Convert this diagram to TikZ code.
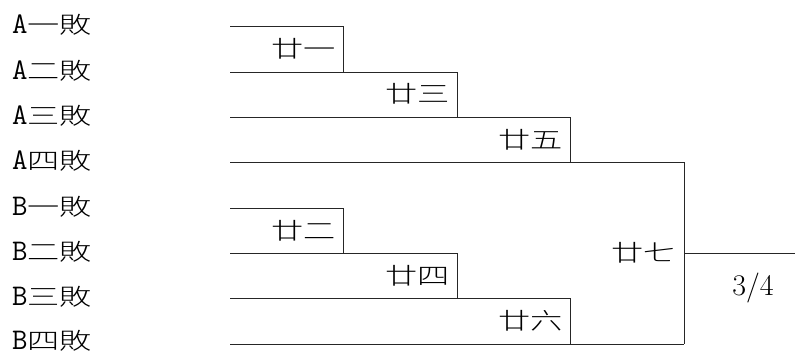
\documentclass[tikz,border=0pt]{standalone}
\usepackage{fontspec}
\newfontfamily\cjk[FakeStretch=1.4]{Noto Sans CJK TC Light}
\begin{document}
\begin{tikzpicture}[x=1pt,y=-1pt,
  br/.style={draw=black!85,line width=0.8pt},
  cj/.style={inner sep=0pt,anchor=east,font=\fontsize{23}{23}\selectfont\cjk},
  lab/.style={inner sep=0pt,anchor=west},
  sc/.style={inner sep=0pt,font=\fontsize{30}{30}\selectfont\rmfamily}]
\useasboundingbox (0,0) rectangle (795,356);
\newcommand\lbl[2]{{\fontsize{30}{30}\selectfont\ttfamily #1}{\fontsize{23}{23}\selectfont\cjk #2}}
% left labels
\node[lab] (la1) at (12,25) {\lbl{A}{一敗}};
\node[lab] (la2) at (12,71) {\lbl{A}{二敗}};
\node[lab] (la3) at (12,116) {\lbl{A}{三敗}};
\node[lab] (la4) at (12,161) {\lbl{A}{四敗}};
\node[lab] (lb1) at (12,207) {\lbl{B}{一敗}};
\node[lab] (lb2) at (12,252) {\lbl{B}{二敗}};
\node[lab] (lb3) at (12,297) {\lbl{B}{三敗}};
\node[lab] (lb4) at (12,341) {\lbl{B}{四敗}};
% line starts
\coordinate (a1) at (230,26);
\coordinate (a2) at (230,72);
\coordinate (a3) at (230,117);
\coordinate (a4) at (230,162);
\coordinate (b1) at (230,208);
\coordinate (b2) at (230,253);
\coordinate (b3) at (230,298);
\coordinate (b4) at (230,344);
% bracket ends
\coordinate (m21) at (343,72);
\coordinate (m23) at (457,117);
\coordinate (m25) at (570,162);
\coordinate (m27) at (684,344);
\coordinate (m22) at (343,253);
\coordinate (m24) at (457,298);
\coordinate (m26) at (570,344);
\coordinate (o1) at (684,253);
\coordinate (o2) at (795,253);
\draw[br] (a1) -| (m21);
\draw[br] (a2) -| (m23);
\draw[br] (a3) -| (m25);
\draw[br] (a4) -| (m27);
\draw[br] (b1) -| (m22);
\draw[br] (b2) -| (m24);
\draw[br] (b3) -| (m26);
\draw[br] (b4) -- (m27);
\draw[br] (o1) -- (o2);
% match labels
\node[cj] (g21) at (336,49) {廿一};
\node[cj] (g23) at (450,94) {廿三};
\node[cj] (g25) at (563,140) {廿五};
\node[cj] (g22) at (336,231) {廿二};
\node[cj] (g24) at (450,276) {廿四};
\node[cj] (g26) at (563,321) {廿六};
\node[cj] (g27) at (676,253) {廿七};
\node[sc] (res) at (753,288) {3/4};
\end{tikzpicture}
\end{document}
